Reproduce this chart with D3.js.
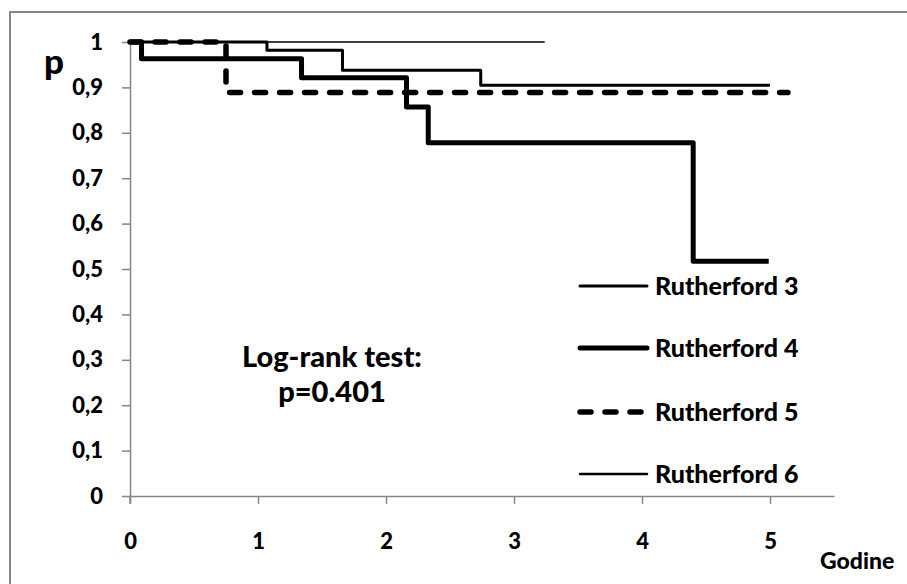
<!DOCTYPE html>
<html lang="en">
<head>
<meta charset="UTF-8">
<title>Kaplan-Meier - Rutherford</title>
<style>
    body { margin: 0; background: #fff; }
    svg text { font-family: Lato, "Open Sans", sans-serif; font-weight: 900; fill: #000; }
    .axis path, .axis line { stroke: #868686; stroke-width: 1.5; }
    .km { fill: none; stroke: #000; stroke-linejoin: round; }
</style>
</head>
<body>
<script src="https://d3js.org/d3.v7.min.js"></script>
<script>
    // Data
    const seriesNames = ['Rutherford 3', 'Rutherford 4', 'Rutherford 5', 'Rutherford 6'];
    const r3Time = [0, 1.07, 1.66, 2.74, 5.0];
    const r3Surv = [1, 0.982, 0.938, 0.905, 0.905];
    const r4Time = [0, 0.09, 1.34, 2.16, 2.33, 4.40, 4.99];
    const r4Surv = [1, 0.963, 0.921, 0.857, 0.778, 0.517, 0.517];
    const r5Time = [0, 0.75, 5.14];
    const r5Surv = [1, 0.889, 0.889];
    const r6Time = [0, 3.24];
    const r6Surv = [1, 1];
    const xTicks = [0, 1, 2, 3, 4, 5];
    const yTicks = [0, 0.1, 0.2, 0.3, 0.4, 0.5, 0.6, 0.7, 0.8, 0.9, 1];
    const testLines = ['Log-rank test:', 'p=0.401'];

    const width = 907, height = 584;
    const margin = { top: 42, right: 74, bottom: 88, left: 130 };

    const svg = d3.select('body').append('svg')
        .attr('width', width)
        .attr('height', height);

    // outer frame (right and bottom edges fall outside the picture)
    svg.append('rect')
        .attr('x', 10).attr('y', 12)
        .attr('width', 920).attr('height', 600)
        .attr('fill', 'none')
        .attr('stroke', '#868686')
        .attr('stroke-width', 2);

    const x = d3.scaleLinear().domain([0, 5.5]).range([margin.left, margin.left + 128 * 5.5]);
    const y = d3.scaleLinear().domain([0, 1]).range([height - margin.bottom, margin.top]);

    svg.append('g')
        .attr('class', 'axis')
        .attr('transform', `translate(0,${y(0)})`)
        .call(d3.axisBottom(x).tickValues(xTicks).tickSize(8).tickSizeOuter(0).tickPadding(29).tickFormat(d3.format('d')))
        .call(g => g.selectAll('text').attr('font-size', 22));

    svg.append('g')
        .attr('class', 'axis')
        .attr('transform', `translate(${x(0)},0)`)
        .call(d3.axisLeft(y).tickValues(yTicks).tickSize(8).tickSizeOuter(0).tickPadding(19)
            .tickFormat(d => d3.format('.1~f')(d).replace('.', ',')))
        .call(g => g.selectAll('text').attr('font-size', 22));

    // tick at the origin pointing down
    svg.append('line')
        .attr('x1', x(0)).attr('x2', x(0))
        .attr('y1', y(0)).attr('y2', y(0) + 8)
        .attr('stroke', '#868686').attr('stroke-width', 1.5);

    svg.append('text')
        .attr('x', 44).attr('y', 74)
        .attr('font-size', 35)
        .text('p');

    svg.append('text')
        .attr('x', 820).attr('y', 569)
        .attr('font-size', 23)
        .text('Godine');

    const step = d3.line()
        .x(d => x(d[0]))
        .y(d => y(d[1]))
        .curve(d3.curveStepAfter);

    const styles = [
        { width: 3, dash: null },
        { width: 5, dash: null },
        { width: 5.5, dash: '11,14' },
        { width: 1.5, dash: null }
    ];
    const series = [
        d3.zip(r3Time, r3Surv),
        d3.zip(r4Time, r4Surv),
        d3.zip(r5Time, r5Surv),
        d3.zip(r6Time, r6Surv)
    ];

    // draw 5 first, then 4, 3, 6 on top
    [2, 1, 0, 3].forEach(i => {
        svg.append('path')
            .datum(series[i])
            .attr('class', 'km')
            .attr('d', step)
            .attr('stroke-width', styles[i].width)
            .attr('stroke-dasharray', styles[i].dash)
            .attr('stroke-linecap', styles[i].dash ? 'round' : 'butt');
    });

    // legend
    const legendY = [286, 348, 412, 474];
    const legend = svg.append('g');
    seriesNames.forEach((name, i) => {
        legend.append('line')
            .attr('x1', 580).attr('x2', 647)
            .attr('y1', legendY[i]).attr('y2', legendY[i])
            .attr('stroke', '#000')
            .attr('stroke-width', i === 3 ? 2.5 : styles[i].width)
            .attr('stroke-dasharray', styles[i].dash)
            .attr('stroke-linecap', 'round');
        legend.append('text')
            .attr('x', 655).attr('y', legendY[i] + 9)
            .attr('font-size', 25)
            .text(name);
    });

    // test result
    testLines.forEach((t, i) => {
        svg.append('text')
            .attr('x', 332).attr('y', 367 + i * 35)
            .attr('text-anchor', 'middle')
            .attr('font-size', 29)
            .text(t);
    });
</script>
</body>
</html>
